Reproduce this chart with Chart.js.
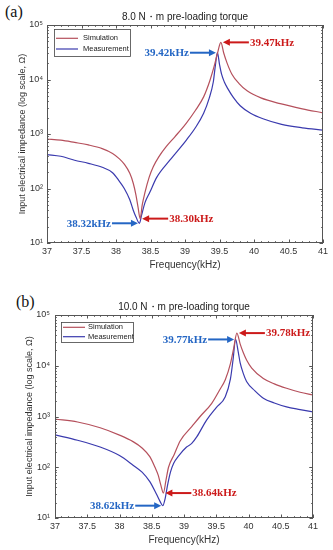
<!DOCTYPE html>
<html>
<head>
<meta charset="utf-8">
<script src="https://cdn.jsdelivr.net/npm/chart.js@4.4.1/dist/chart.umd.min.js"></script>
<style>
  body { margin: 0; background: #fff; }
  #wrap { position: relative; width: 333px; height: 550px; background: #fff; overflow: hidden; }
  canvas { position: absolute; left: 0; }
  .tag { position: absolute; font-family: "Liberation Serif", "Times New Roman", serif; font-size: 16px; color: #111; }
</style>
</head>
<body>
<div id="wrap">
  <div class="tag" style="left:5px;top:3px;">(a)</div>
  <canvas id="chartA" width="333" height="275" style="top:0px"></canvas>
  <div class="tag" style="left:16px;top:293px;">(b)</div>
  <canvas id="chartB" width="333" height="265" style="top:285px"></canvas>
</div>
<script>
// data (kHz, ohm)
var simAFreq  = [37.0, 37.2, 37.4, 37.6, 37.8, 37.95, 38.05, 38.12, 38.2, 38.25, 38.29, 38.32, 38.35, 38.38, 38.42, 38.48, 38.54, 38.62, 38.73, 38.85, 39.02, 39.15, 39.27, 39.36, 39.42, 39.47, 39.52, 39.56, 39.61, 39.68, 39.78, 39.9, 40.1, 40.38, 40.7, 41.0]
var simAImp   = [810, 770, 700, 630, 540, 440, 350, 280, 190, 125, 75, 45, 28, 50, 85, 160, 250, 380, 590, 880, 1590, 2700, 4800, 9500, 17000, 30000, 48000, 31000, 20000, 12500, 8500, 6200, 4600, 3600, 2900, 2450]
var measAFreq = [37.0, 37.2, 37.4, 37.6, 37.8, 37.95, 38.05, 38.12, 38.2, 38.25, 38.29, 38.34, 38.37, 38.42, 38.49, 38.59, 38.78, 39.02, 39.15, 39.27, 39.35, 39.41, 39.44, 39.47, 39.5, 39.53, 39.57, 39.62, 39.7, 39.8, 39.95, 40.13, 40.4, 40.7, 41.0]
var measAImp  = [420, 390, 330, 290, 245, 195, 135, 100, 62, 40, 30, 23, 32, 55, 85, 160, 330, 775, 1300, 2400, 4500, 9000, 18000, 31000, 19000, 12500, 9000, 6800, 4700, 3300, 2400, 1900, 1500, 1300, 1180]

var simBFreq  = [37.0, 37.35, 37.7, 38.0, 38.21, 38.35, 38.47, 38.55, 38.6, 38.64, 38.68, 38.72, 38.76, 38.85, 38.94, 39.12, 39.25, 39.43, 39.55, 39.64, 39.72, 39.77, 39.82, 39.87, 39.92, 39.97, 40.05, 40.23, 40.4, 40.59, 40.8, 41.0]
var simBImp   = [890, 780, 600, 430, 320, 240, 162, 100, 70, 45, 31, 55, 100, 180, 330, 630, 1000, 1820, 3300, 5300, 11000, 22000, 44000, 27000, 18000, 13000, 9000, 5600, 4400, 3600, 3000, 2650]
var measBFreq = [37.0, 37.35, 37.7, 38.0, 38.21, 38.35, 38.47, 38.57, 38.63, 38.67, 38.71, 38.74, 38.79, 38.84, 38.92, 39.04, 39.12, 39.2, 39.35, 39.5, 39.64, 39.72, 39.76, 39.8, 39.84, 39.87, 39.92, 39.97, 40.1, 40.23, 40.4, 40.59, 40.8, 41.0]
var measBImp  = [435, 340, 250, 170, 110, 80, 52, 30, 21, 17.5, 25, 41, 80, 120, 170, 250, 295, 400, 850, 1500, 2450, 5500, 13000, 33000, 19000, 11500, 7000, 4900, 3200, 2300, 1850, 1550, 1370, 1230]

var yTicks = [10, 100, 1000, 10000, 100000]
var supers = ['⁰', '¹', '²', '³', '⁴', '⁵']

var simColor = '#b5505c'
var measColor = '#3a3aae'
var noteRed = '#cc1a1a'
var noteBlue = '#2466c4'

Chart.defaults.font.family = 'Arial, "Liberation Sans", sans-serif'
Chart.defaults.color = '#333'

function toPoints(fs, vs) {
    return fs.map(function (f, i) { return {x: f, y: vs[i]} })
}

// box, inward ticks, legend and arrow notes
var framePlugin = {
    id: 'frame',
    afterDraw: function (chart) {
        var ctx = chart.ctx
        var a = chart.chartArea
        var xs = chart.scales.x
        var ys = chart.scales.y
        var g = chart.options.plugins.frame

        ctx.save()
        ctx.strokeStyle = '#555'
        ctx.lineWidth = 1
        ctx.strokeRect(a.left + 0.5, a.top + 0.5, a.right - a.left - 1, a.bottom - a.top - 1)

        ctx.beginPath()
        for (var i = 0; i <= 40; i++) {
            var v = 37 + i * 0.1
            var px = Math.round(xs.getPixelForValue(v)) + 0.5
            var len = (i % 5 === 0) ? 3.5 : 1.8
            ctx.moveTo(px, a.bottom); ctx.lineTo(px, a.bottom - len)
            ctx.moveTo(px, a.top); ctx.lineTo(px, a.top + len)
        }
        for (var d = 1; d < 5; d++) {
            for (var m = 1; m <= 10; m++) {
                var yv = Math.pow(10, d) * m
                if (yv > 100000) continue
                var py = Math.round(ys.getPixelForValue(yv)) + 0.5
                var l2 = (m === 1 || m === 10) ? 3.5 : 1.8
                ctx.moveTo(a.left, py); ctx.lineTo(a.left + l2, py)
                ctx.moveTo(a.right, py); ctx.lineTo(a.right - l2, py)
            }
        }
        ctx.stroke()

        // legend
        var lx = a.left + g.legendX, ly = a.top + g.legendY
        ctx.fillStyle = '#fff'
        ctx.fillRect(lx, ly, g.legendW, g.legendH)
        ctx.strokeStyle = '#444'
        ctx.lineWidth = 0.8
        ctx.strokeRect(lx + 0.5, ly + 0.5, g.legendW, g.legendH)
        chart.data.datasets.forEach(function (ds, k) {
            var ry = ly + g.rowTop + k * g.rowGap
            ctx.strokeStyle = ds.borderColor
            ctx.lineWidth = 1.2
            ctx.beginPath()
            ctx.moveTo(lx + 2, ry); ctx.lineTo(lx + 24, ry)
            ctx.stroke()
            ctx.fillStyle = '#222'
            ctx.font = '7.5px Arial, "Liberation Sans", sans-serif'
            ctx.textAlign = 'left'
            ctx.textBaseline = 'middle'
            ctx.fillText(ds.label, lx + g.textX, ry)
        })

        // arrows pointing at the extremes
        g.notes.forEach(function (n) {
            var pts = chart.data.datasets[n.ds].data
            var best = pts[0]
            pts.forEach(function (p) {
                if (n.kind === 'max' ? p.y > best.y : p.y < best.y) best = p
            })
            var right = n.ds === 0
            var dir = right ? 1 : -1
            var tipX = xs.getPixelForValue(best.x) + (right ? 2 : -1.5)
            var tipY = ys.getPixelForValue(best.y)
            var tail = tipX + dir * 26
            var col = right ? noteRed : noteBlue
            ctx.strokeStyle = col
            ctx.fillStyle = col
            ctx.lineWidth = 2
            ctx.beginPath()
            ctx.moveTo(tail, tipY); ctx.lineTo(tipX + dir * 5, tipY)
            ctx.stroke()
            ctx.beginPath()
            ctx.moveTo(tipX, tipY)
            ctx.lineTo(tipX + dir * 7, tipY - 3.5)
            ctx.lineTo(tipX + dir * 7, tipY + 3.5)
            ctx.closePath()
            ctx.fill()
            ctx.font = 'bold 11px "Liberation Serif", "Times New Roman", serif'
            ctx.textBaseline = 'middle'
            ctx.textAlign = right ? 'left' : 'right'
            ctx.fillText(n.text, tail + dir * 1, tipY + 0.5)
        })
        ctx.restore()
    }
}

function makeChart(id, title, simF, simV, measF, measV, g) {
    return new Chart(document.getElementById(id), {
        type: 'line',
        data: {
            datasets: [
                {
                    label: 'Simulation',
                    data: toPoints(simF, simV),
                    borderColor: simColor,
                    borderWidth: 1.2,
                    pointRadius: 0,
                    cubicInterpolationMode: 'monotone'
                },
                {
                    label: 'Measurement',
                    data: toPoints(measF, measV),
                    borderColor: measColor,
                    borderWidth: 1.2,
                    pointRadius: 0,
                    cubicInterpolationMode: 'monotone'
                }
            ]
        },
        options: {
            responsive: false,
            animation: false,
            devicePixelRatio: 1,
            layout: { padding: { left: 0, right: g.padRight, top: 0, bottom: 0 } },
            scales: {
                x: {
                    type: 'linear',
                    min: 37,
                    max: 41,
                    grid: { display: false, drawTicks: false },
                    border: { display: false },
                    ticks: {
                        stepSize: 0.5,
                        autoSkip: false,
                        maxRotation: 0,
                        padding: 3,
                        font: { size: 9 },
                        color: '#333',
                        callback: function (v) { return String(v) }
                    },
                    title: {
                        display: true,
                        text: 'Frequency(kHz)',
                        font: { size: 10 },
                        color: '#333',
                        padding: { top: 0, bottom: 4 }
                    },
                    afterFit: function (s) { s.height = g.xHeight }
                },
                y: {
                    type: 'logarithmic',
                    min: 10,
                    max: 100000,
                    grid: { display: false, drawTicks: false },
                    border: { display: false },
                    afterBuildTicks: function (s) {
                        s.ticks = yTicks.map(function (v) { return {value: v} })
                    },
                    ticks: {
                        padding: g.yPad,
                        font: { size: 9 },
                        color: '#333',
                        callback: function (v) { return '10' + supers[Math.round(Math.log10(v))] }
                    },
                    title: {
                        display: true,
                        text: 'Input electrical impedance (log scale, Ω)',
                        font: { size: 9 },
                        color: '#333',
                        padding: { top: g.yTitlePad, bottom: 0 }
                    },
                    afterFit: function (s) { s.width = g.yWidth }
                }
            },
            plugins: {
                legend: { display: false },
                tooltip: { enabled: false },
                title: {
                    display: true,
                    text: title,
                    fullSize: false,
                    color: '#222',
                    font: { size: 10, weight: 'normal' },
                    padding: { top: g.titleTop, bottom: g.titleBottom }
                },
                frame: g
            }
        },
        plugins: [framePlugin]
    })
}

makeChart('chartA', '8.0 N・m pre-loading torque', simAFreq, simAImp, measAFreq, measAImp, {
    padRight: 10, xHeight: 32, yWidth: 47, yPad: 4, yTitlePad: 17,
    titleTop: 11, titleBottom: 2,
    legendX: 7, legendY: 4, legendW: 76, legendH: 27, rowTop: 9.3, rowGap: 10.7, textX: 29,
    notes: [
        {ds: 0, kind: 'max', text: '39.47kHz'},
        {ds: 1, kind: 'max', text: '39.42kHz'},
        {ds: 0, kind: 'min', text: '38.30kHz'},
        {ds: 1, kind: 'min', text: '38.32kHz'}
    ]
})

makeChart('chartB', '10.0 N・m pre-loading torque', simBFreq, simBImp, measBFreq, measBImp, {
    padRight: 20, xHeight: 32, yWidth: 55, yPad: 5, yTitlePad: 24,
    titleTop: 16, titleBottom: 2,
    legendX: 6, legendY: 7, legendW: 72, legendH: 20, rowTop: 5.3, rowGap: 9.4, textX: 27,
    notes: [
        {ds: 0, kind: 'max', text: '39.78kHz'},
        {ds: 1, kind: 'max', text: '39.77kHz'},
        {ds: 0, kind: 'min', text: '38.64kHz'},
        {ds: 1, kind: 'min', text: '38.62kHz'}
    ]
})
</script>
</body>
</html>
